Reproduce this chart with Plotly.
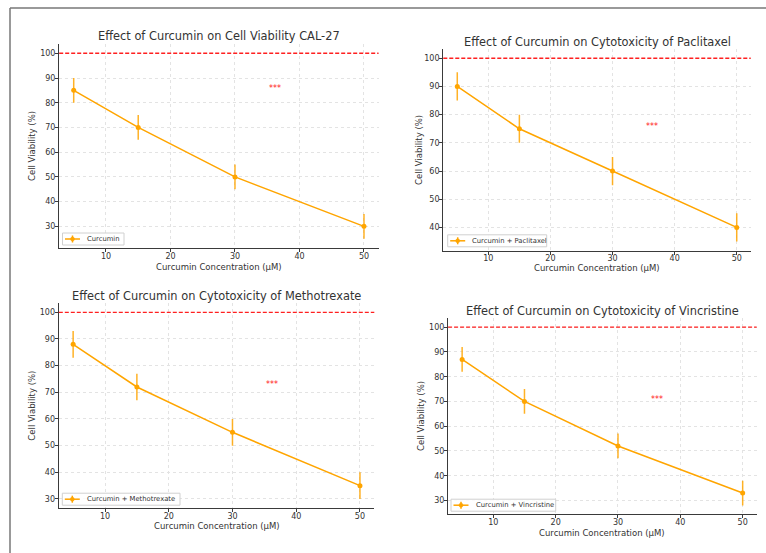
import plotly.graph_objects as go

# ---- data ----
conc = [5, 15, 30, 50]
curcumin = [85, 70, 50, 30]
paclitaxel = [90, 75, 60, 40]
methotrexate = [88, 72, 55, 35]
vincristine = [87, 70, 52, 33]
err = [5, 5, 5, 5]
control_level = 100
star_x = 35
star_y = [85, 75, 72, 70]

titles = [
    "Effect of Curcumin on Cell Viability CAL-27",
    "Effect of Curcumin on Cytotoxicity of Paclitaxel",
    "Effect of Curcumin on Cytotoxicity of Methotrexate",
    "Effect of Curcumin on Cytotoxicity of Vincristine",
]
names = ["Curcumin", "Curcumin + Paclitaxel", "Curcumin + Methotrexate", "Curcumin + Vincristine"]
series = [curcumin, paclitaxel, methotrexate, vincristine]
x_ticks = [10, 20, 30, 40, 50]

W, H = 766, 553
# panel geometry in pixels: (left, right, top, bottom)
panels = [
    (59.2, 378.5, 44.0, 248.0),
    (443.3, 750.7, 49.1, 250.7),
    (58.8, 374.3, 303.0, 508.3),
    (448.1, 756.7, 318.3, 514.3),
]
title_y = [36, 41.7, 295.7, 310.7]
xlabel_y = [267, 268, 526, 533.3]
ylabel_x = [32, 419, 32, 421.7]
# legend boxes in pixels: (left, right, center y)
legend_box = [(62.5, 124, 239), (447.7, 546.7, 240.8), (62.3, 180, 499.2), (451, 555.7, 505.2)]

ORANGE = "#FFA500"
TXT = "#333333"
FONT = "DejaVu Sans"


def px(x):
    return x / W


def py(y):
    return 1 - y / H


fig = go.Figure()
annotations = []
shapes = []

for i, (vals, name) in enumerate(zip(series, names)):
    k = "" if i == 0 else str(i + 1)
    xa, ya = "x" + k, "y" + k
    fig.add_trace(go.Scatter(
        x=conc, y=vals, mode="lines+markers", name=name,
        line=dict(color=ORANGE, width=1.5),
        marker=dict(color=ORANGE, size=5),
        error_y=dict(type="data", array=err, visible=True, color="rgba(255,165,0,0.85)",
                     thickness=1.5, width=0),
        xaxis=xa, yaxis=ya, showlegend=False,
    ))
    l, r, t, b = panels[i]
    lo = min(v - e for v, e in zip(vals, err))
    hi = control_level
    pad = 0.05 * (hi - lo)
    xlo, xhi = min(conc), max(conc)
    xpad = 0.05 * (xhi - xlo)
    ax_common = dict(
        showline=True, linecolor="#3a3a3a", linewidth=1.3, mirror=False,
        ticks="outside", ticklen=3, tickcolor="#3a3a3a", tickwidth=1,
        showgrid=True, gridcolor="#e3e3e3", griddash="dot", gridwidth=1,
        zeroline=False, tickfont=dict(family=FONT, size=8, color=TXT),
    )
    fig.layout["xaxis" + k] = dict(
        domain=[px(l), px(r)], anchor=ya, ticklabelstandoff=-3,
        range=[xlo - xpad, xhi + xpad], tickvals=x_ticks, **ax_common)
    y_ticks = [v for v in range(0, 101, 10) if v >= lo - pad]
    fig.layout["yaxis" + k] = dict(
        domain=[py(b), py(t)], anchor=xa, ticklabelstandoff=-2,
        range=[lo - pad, hi + pad], tickvals=y_ticks, **ax_common)
    # reference line at 100%
    shapes.append(dict(type="line", xref=xa + " domain", yref=ya, x0=0, x1=1,
                       y0=control_level, y1=control_level,
                       line=dict(color="#FF2020", width=1.3, dash="4px,2px")))
    # significance stars
    annotations.append(dict(x=star_x, y=star_y[i], xref=xa, yref=ya, text="***",
                            showarrow=False, xanchor="left", yanchor="middle", yshift=2,
                            font=dict(family=FONT, size=8, color="#FF2020")))
    # title
    annotations.append(dict(x=px((l + r) / 2), y=py(title_y[i]), xref="paper", yref="paper",
                            text=titles[i], showarrow=False, xanchor="center", yanchor="middle",
                            font=dict(family=FONT, size=11.4, color=TXT)))
    # axis labels
    annotations.append(dict(x=px((l + r) / 2), y=py(xlabel_y[i]), xref="paper", yref="paper",
                            text="Curcumin Concentration (µM)", showarrow=False,
                            xanchor="center", yanchor="middle", borderpad=0,
                            font=dict(family=FONT, size=8.5, color=TXT)))
    annotations.append(dict(x=px(ylabel_x[i]), y=py((t + b) / 2), xref="paper", yref="paper",
                            text="Cell Viability (%)", showarrow=False, textangle=-90,
                            xanchor="center", yanchor="middle",
                            font=dict(family=FONT, size=8.5, color=TXT)))
    # legend (box, handle with error bar and marker, label)
    bl, br, bc = legend_box[i]
    shapes.append(dict(type="rect", xref="paper", yref="paper",
                       x0=px(bl), x1=px(br), y0=py(bc + 6), y1=py(bc - 6),
                       fillcolor="rgba(255,255,255,0.85)", line=dict(color="#d0d0d0", width=1)))
    shapes.append(dict(type="line", xref="paper", yref="paper",
                       x0=px(bl + 2.5), x1=px(bl + 17.5), y0=py(bc), y1=py(bc),
                       line=dict(color=ORANGE, width=1.5)))
    shapes.append(dict(type="line", xref="paper", yref="paper",
                       x0=px(bl + 10), x1=px(bl + 10), y0=py(bc - 3.5), y1=py(bc + 3.5),
                       line=dict(color=ORANGE, width=1.5)))
    shapes.append(dict(type="circle", xref="paper", yref="paper",
                       x0=px(bl + 8), x1=px(bl + 12), y0=py(bc + 2), y1=py(bc - 2),
                       fillcolor=ORANGE, line=dict(color=ORANGE, width=0.5)))
    annotations.append(dict(x=px(bl + 22.5), y=py(bc), xref="paper", yref="paper",
                            text=name, showarrow=False, xanchor="left", yanchor="middle",
                            font=dict(family=FONT, size=6.8, color=TXT)))

# outer frame (left and top edges)
shapes.append(dict(type="line", xref="paper", yref="paper", x0=px(10), x1=px(10),
                   y0=0, y1=py(8), line=dict(color="#777777", width=1.5)))
shapes.append(dict(type="line", xref="paper", yref="paper", x0=px(10), x1=1,
                   y0=py(8), y1=py(8), line=dict(color="#777777", width=1.5)))

fig.update_layout(
    width=W, height=H, margin=dict(l=0, r=0, t=0, b=0),
    paper_bgcolor="white", plot_bgcolor="white",
    font=dict(family=FONT, color=TXT),
    annotations=annotations, shapes=shapes, showlegend=False,
)
fig.write_html("out.html", config={"displayModeBar": False},
               post_script="document.body.style.margin='0px';")
